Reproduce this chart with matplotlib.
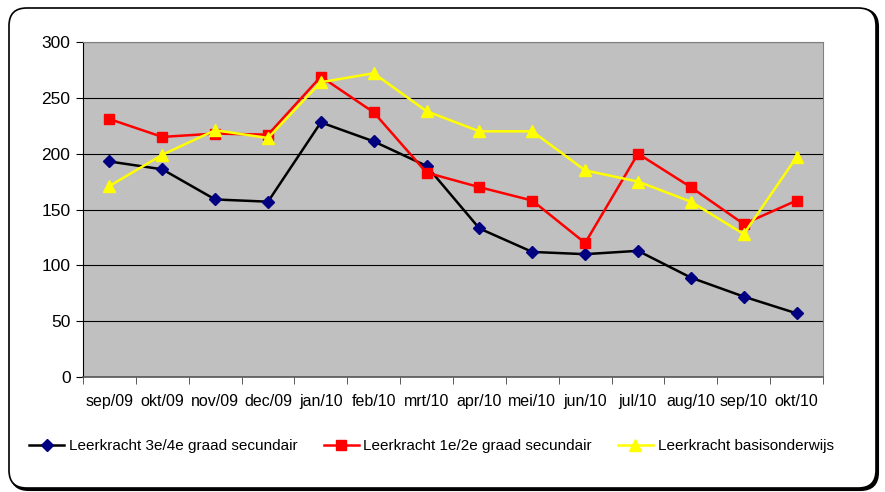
import numpy as np
import matplotlib.pyplot as plt
from matplotlib.patches import FancyBboxPatch

plt.rcParams['font.family'] = ['Liberation Sans', 'DejaVu Sans']

months = ['sep/09', 'okt/09', 'nov/09', 'dec/09', 'jan/10', 'feb/10', 'mrt/10',
          'apr/10', 'mei/10', 'jun/10', 'jul/10', 'aug/10', 'sep/10', 'okt/10']
graad_34 = [193, 186, 159, 157, 228, 211, 189, 133, 112, 110, 113, 89, 72, 57]
graad_12 = [231, 215, 218, 217, 269, 237, 183, 170, 158, 120, 200, 170, 137, 158]
basis = [171, 199, 221, 214, 264, 272, 238, 220, 220, 185, 175, 157, 128, 197]
labels = ['Leerkracht 3e/4e graad secundair', 'Leerkracht 1e/2e graad secundair',
          'Leerkracht basisonderwijs']

W, H = 885, 492
fig = plt.figure(figsize=(W / 100, H / 100), dpi=100)

# rounded frame with shadow, kept behind the axes
shadow = FancyBboxPatch((11 / W, 2 / H), 867 / W, 481 / H,
                        boxstyle='round,pad=0,rounding_size=0.02',
                        transform=fig.transFigure, facecolor='black',
                        edgecolor='black', lw=1.5, mutation_aspect=W / H, zorder=-2)
frame = FancyBboxPatch((9 / W, 4 / H), 867 / W, 480 / H,
                       boxstyle='round,pad=0,rounding_size=0.02',
                       transform=fig.transFigure, facecolor='white',
                       edgecolor='black', lw=1.2, mutation_aspect=W / H, zorder=-1)
fig.patches.extend([shadow, frame])

ax = fig.add_axes([83 / W, 1 - 377 / H, 740 / W, 335 / H])
ax.set_facecolor('#C0C0C0')
x = np.arange(len(months))

ax.plot(x, graad_34, color='black', lw=1.8, marker='D', ms=6,
        mfc='#000080', mec='#000080', label=labels[0], zorder=3)
ax.plot(x, graad_12, color='#FF0000', lw=1.8, marker='s', ms=7.5,
        mfc='#FF0000', mec='#FF0000', label=labels[1], zorder=3)
ax.plot(x, basis, color='#FFFF00', lw=1.8, marker='^', ms=8.5,
        mfc='#FFFF00', mec='#FFFF00', label=labels[2], zorder=3)

ax.set_xlim(-0.5, len(months) - 0.5)
ax.set_ylim(0, 300)
ax.set_yticks(np.arange(0, 301, 50))
ax.yaxis.grid(True, color='black', lw=0.8)
ax.set_axisbelow(True)
ax.set_xticks(x)
ax.set_xticklabels(months)
ax.set_xticks(np.arange(-0.5, len(months)), minor=True)
ax.tick_params(axis='x', which='major', length=0, pad=12, labelsize=11.5)
ax.tick_params(axis='x', which='minor', length=5, direction='out', color='#404040')
ax.tick_params(axis='y', length=5, direction='out', labelsize=12.5, pad=4)

ax.spines['left'].set_color('black')
ax.spines['bottom'].set_color('#555555')
ax.spines['bottom'].set_linewidth(1.2)
ax.spines['top'].set_color('#808080')
ax.spines['right'].set_color('#808080')

fig.legend(loc='center', bbox_to_anchor=(0.4875, 1 - 446 / H), ncol=3, frameon=False,
           fontsize=11, handlelength=2.3, handletextpad=0.3, columnspacing=1.7)

fig.savefig('out.png', dpi=100)
